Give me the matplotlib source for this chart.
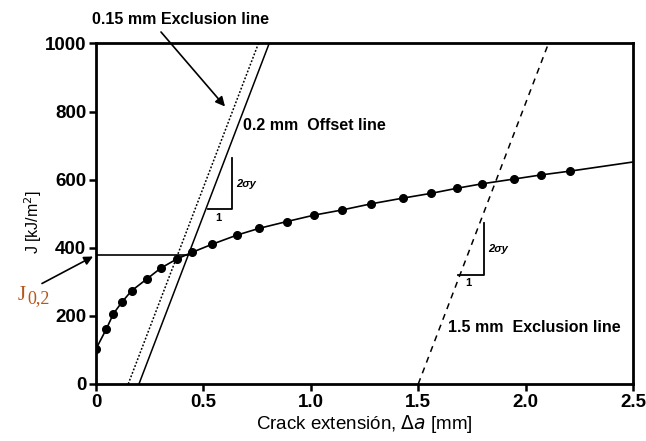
import numpy as np
import matplotlib.pyplot as plt

plt.rcParams['font.family'] = ['Liberation Sans', 'DejaVu Sans']

# J-R curve points
da = [0, 0.047, 0.081, 0.12, 0.166, 0.236, 0.301, 0.376, 0.449, 0.539, 0.655, 0.759,
      0.888, 1.016, 1.145, 1.28, 1.43, 1.561, 1.682, 1.798, 1.947, 2.072, 2.205]
J = [103, 160, 206, 240, 274, 308, 340, 367, 387, 410, 437, 457,
     477, 496, 511, 529, 546, 560, 575, 588, 602, 614, 625]
# fitted curve continues to the edge of the plot
fit_end = (2.5, 652)

# blunting line slope (2*sigma_y) and offsets
slope = 1650
off_excl1 = 0.15
off_offset = 0.2
off_excl2 = 1.5
J02 = 380

fig = plt.figure(figsize=(6.46, 4.41), dpi=100)
ax = fig.add_axes([0.1486, 0.1293, 0.8314, 0.7721])

def blunt_line(off, **kw):
    x = np.array([off, off + 1000 / slope])
    ax.plot(x, slope * (x - off), color='black', **kw)

blunt_line(off_excl1, lw=1.1, linestyle=(0, (1.2, 1.2)))
blunt_line(off_offset, lw=1.1)
blunt_line(off_excl2, lw=1.1, linestyle=(0, (4, 3.5)))

ax.plot(da + [fit_end[0]], J + [fit_end[1]], color='black', lw=1.2, zorder=3)
ax.plot(da, J, 'o', color='black', ms=5.5, zorder=4)

# J0.2 line up to the offset line
ax.plot([0, off_offset + J02 / slope], [J02, J02], color='black', lw=1.2)

# slope triangles
for (x0, x1, y0, y1) in [(0.523, 0.632, 513, 663), (1.684, 1.806, 320, 472)]:
    ax.plot([x0, x1, x1], [y0, y0, y1], color='black', lw=1.3)
    ax.text(x1 + 0.02, (y0 + y1) / 2, '2σy', fontsize=8, fontweight='bold',
            va='center', ha='left', style='italic')
    ax.text((x0 + x1) / 2 - 0.01, y0 - 10, '1', fontsize=8, fontweight='bold',
            va='top', ha='center')

ax.set_xlim(0, 2.5)
ax.set_ylim(0, 1000)
ax.set_xticks([0, 0.5, 1.0, 1.5, 2.0, 2.5])
ax.set_xticklabels(['0', '0.5', '1.0', '1.5', '2.0', '2.5'])
ax.set_yticks(range(0, 1001, 200))
for s in ax.spines.values():
    s.set_linewidth(2)
ax.tick_params(width=1.8, length=5, labelsize=13.5, pad=2)
for lab in ax.get_xticklabels() + ax.get_yticklabels():
    lab.set_fontweight('bold')

ax.set_xlabel('Crack extensión, $\\mathit{\\Delta a}$ [mm]', fontsize=13.5, labelpad=2)
ax.set_ylabel('J [kJ/m$^2$]', fontsize=11.5)
ax.yaxis.set_label_coords(-0.097, 0.476)

# annotations
fig.text(0.279, 0.955, '0.15 mm Exclusion line', fontsize=11.5, fontweight='bold',
         ha='center', va='center')
ax.annotate('', xy=(225, 441 - 106.5), xycoords='figure pixels',
            xytext=(161, 441 - 32), textcoords='figure pixels',
            arrowprops=dict(arrowstyle='-|>', color='black', lw=1.2,
                            mutation_scale=14, shrinkA=0, shrinkB=0))
ax.text(0.685, 760, '0.2 mm  Offset line', fontsize=11.5, fontweight='bold',
        ha='left', va='center')
ax.text(1.64, 165, '1.5 mm  Exclusion line', fontsize=11.5, fontweight='bold',
        ha='left', va='center')

fig.text(18 / 646, 1 - 296 / 441, 'J', fontsize=15, family='Liberation Serif',
         color='#b8551c', ha='left', va='center')
fig.text(27 / 646, 1 - 299 / 441, '0,2', fontsize=13, family='Liberation Serif',
         color='#b8551c', ha='left', va='center')
ax.annotate('', xy=(93, 441 - 256.5), xycoords='figure pixels',
            xytext=(42, 441 - 283.5), textcoords='figure pixels',
            arrowprops=dict(arrowstyle='-|>', color='black', lw=1.2,
                            mutation_scale=13, shrinkA=0, shrinkB=0))

fig.savefig('out.png', dpi=100)
